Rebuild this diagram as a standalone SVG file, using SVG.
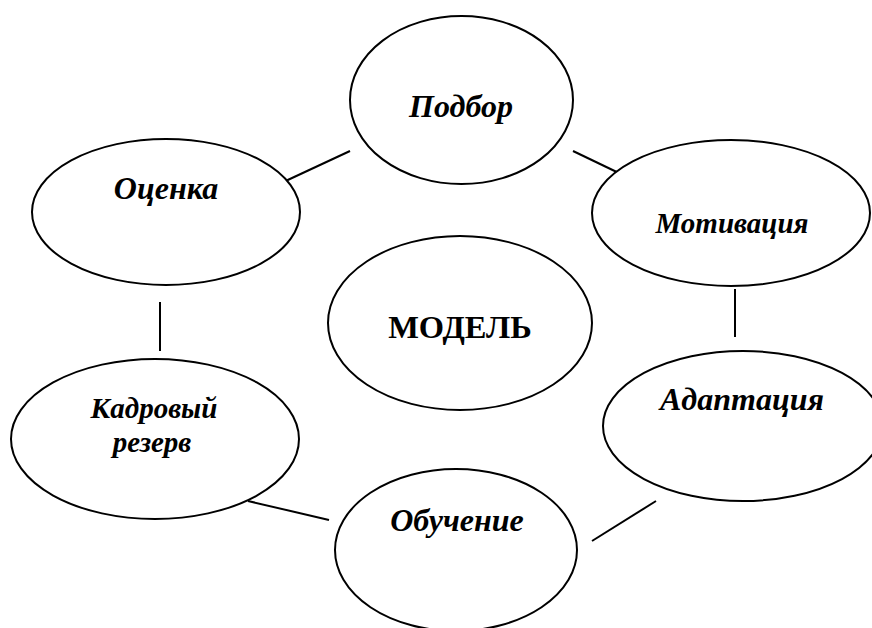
<svg xmlns="http://www.w3.org/2000/svg" width="872" height="628" viewBox="0 0 872 628">
<style>
.n{fill:#fff;stroke:#000;stroke-width:2}
.c line{stroke:#000;stroke-width:2}
.t{font-family:"Liberation Serif","Times New Roman",serif;font-weight:bold;font-style:italic;font-size:32px;text-anchor:middle;fill:#000}
.s{font-size:29px}
.m{font-family:"Liberation Serif","Times New Roman",serif;font-weight:bold;font-size:32.5px;text-anchor:middle;fill:#000}
</style>
<rect width="872" height="628" fill="#fff"/>
<g class="c" id="connectors">
<line x1="350" y1="151" x2="277" y2="185"/>
<line x1="573" y1="151" x2="623" y2="175"/>
<line x1="735" y1="289" x2="735" y2="337"/>
<line x1="656" y1="501" x2="592" y2="541"/>
<line x1="248" y1="501" x2="329" y2="520"/>
<line x1="160" y1="302" x2="160" y2="351"/>
</g>
<g id="podbor"><ellipse class="n" cx="461.5" cy="100" rx="111.5" ry="84"/><text class="t" x="461" y="117">Подбор</text></g>
<g id="ocenka"><ellipse class="n" cx="166" cy="212" rx="134" ry="73"/><text class="t" x="166" y="199">Оценка</text></g>
<g id="motivaciya"><ellipse class="n" cx="731" cy="213" rx="139" ry="73"/><text class="t s" x="732" y="233">Мотивация</text></g>
<g id="model"><ellipse class="n" cx="460" cy="323" rx="132" ry="87"/><text class="m" x="460" y="338">МОДЕЛЬ</text></g>
<g id="adaptaciya"><ellipse class="n" cx="743" cy="426" rx="140" ry="75"/><text class="t" x="742" y="410">Адаптация</text></g>
<g id="kadrovyi"><ellipse class="n" cx="155" cy="439" rx="144" ry="80"/><text class="t s" x="154" y="418">Кадровый</text><text class="t s" x="152" y="452">резерв</text></g>
<g id="obuchenie"><ellipse class="n" cx="456" cy="550" rx="121" ry="81"/><text class="t" x="457" y="531">Обучение</text></g>
</svg>
